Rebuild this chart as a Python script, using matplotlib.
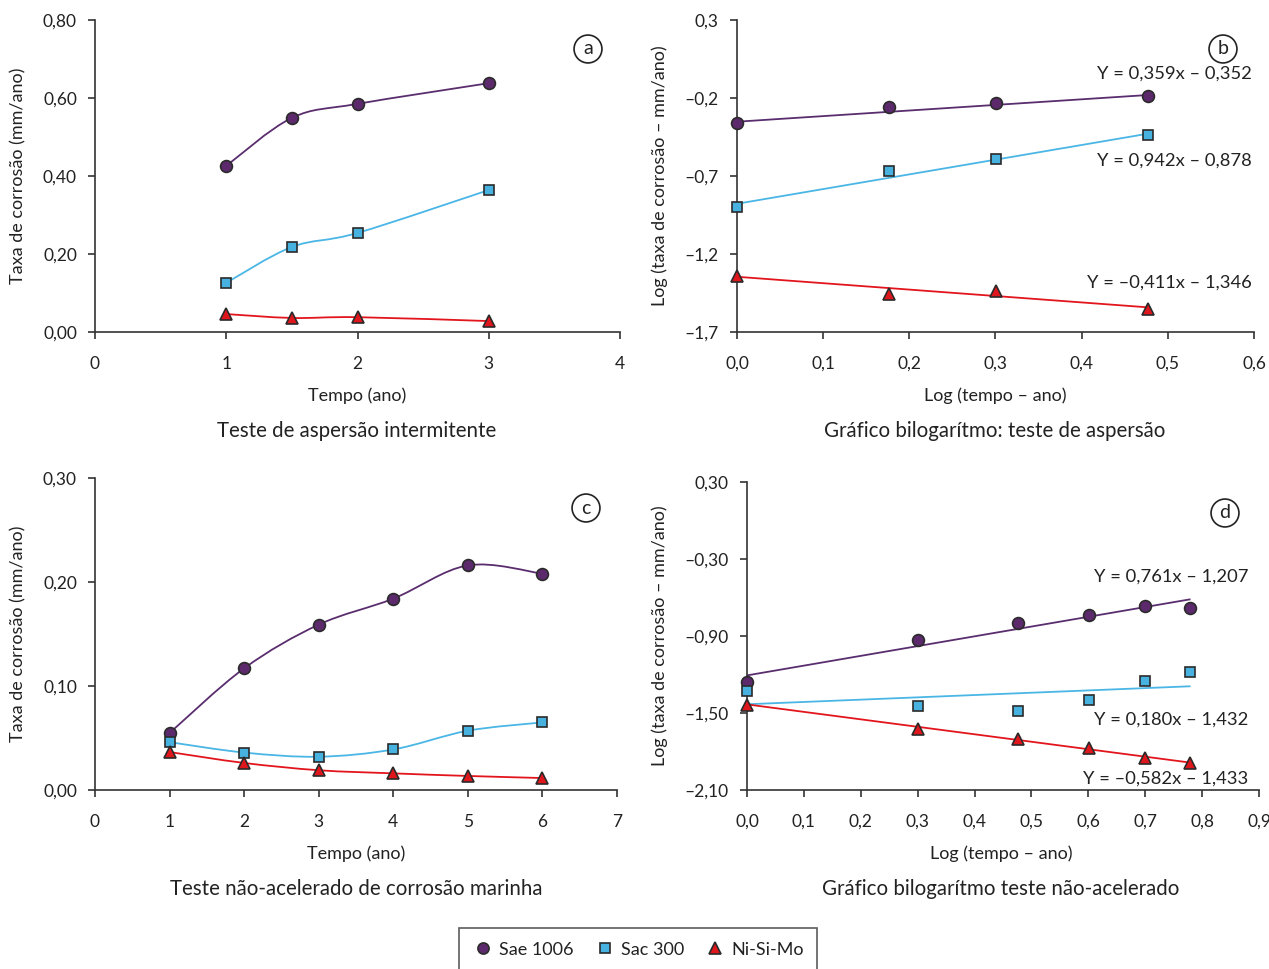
import matplotlib
matplotlib.use("Agg")
import matplotlib.pyplot as plt
from matplotlib.path import Path
from matplotlib.patches import PathPatch
from matplotlib.lines import Line2D
import numpy as np

plt.rcParams['font.family'] = ['Lato', 'DejaVu Sans']

# ---------------- data ----------------
series_names = ["Sae 1006", "Sac 300", "Ni-Si-Mo"]

# (a) Teste de aspersão intermitente
a_time = [1, 1.5, 2, 3]
a_sae = [0.426, 0.549, 0.585, 0.638]
a_sac = [0.126, 0.218, 0.254, 0.364]
a_ni = [0.046, 0.036, 0.038, 0.028]

# (b) bilogarítmico aspersão
b_logt = [0.0, 0.176, 0.301, 0.477]
b_sae = [-0.360, -0.258, -0.232, -0.187]
b_sac = [-0.899, -0.668, -0.591, -0.437]
b_ni = [-1.341, -1.456, -1.437, -1.553]
b_slope = [0.359, 0.942, -0.411]
b_icpt = [-0.352, -0.878, -1.346]
b_eq = ["Y = 0,359x – 0,352", "Y = 0,942x – 0,878", "Y = –0,411x – 1,346"]

# (c) Teste não-acelerado de corrosão marinha
c_time = [1, 2, 3, 4, 5, 6]
c_sae = [0.0548, 0.117, 0.159, 0.184, 0.216, 0.208]
c_sac = [0.046, 0.036, 0.032, 0.039, 0.057, 0.065]
c_ni = [0.0365, 0.026, 0.019, 0.016, 0.0135, 0.0115]

# (d) bilogarítmico não-acelerado
d_logt = [0.0, 0.301, 0.477, 0.602, 0.699, 0.778]
d_sae = [-1.259, -0.931, -0.799, -0.737, -0.666, -0.682]
d_sac = [-1.329, -1.446, -1.485, -1.399, -1.251, -1.181]
d_ni = [-1.438, -1.625, -1.703, -1.773, -1.851, -1.890]
d_slope = [0.761, 0.180, -0.582]
d_icpt = [-1.207, -1.432, -1.433]
d_eq = ["Y = 0,761x – 1,207", "Y = 0,180x – 1,432", "Y = –0,582x – 1,433"]

# ---------------- style ----------------
line_colors = ["#5a2d6e", "#4ab6e6", "#e3151c"]
face_colors = ["#5c2a6c", "#47b2e0", "#e0161d"]
markers = ["o", "s", "^"]
msizes = [8.5, 7.5, 8.5]
edge = "#2a2a2a"
axis_col = "#333333"
txt_col = "#222222"

W, H = 1269, 969
fig = plt.figure(figsize=(W / 100, H / 100), dpi=100)


def add_axes(l, r, t, b):
    return fig.add_axes([l / W, 1 - b / H, (r - l) / W, (b - t) / H])


def fmt(v, nd):
    s = f"{abs(v):.{nd}f}".replace(".", ",")
    return ("–" if v < -1e-9 else "") + s


def style_axes(ax, xlim, xticks, xnd, ylim, yticks, ynd):
    ax.set_xlim(*xlim)
    ax.set_ylim(*ylim)
    for s in ["top", "right"]:
        ax.spines[s].set_visible(False)
    for s in ["left", "bottom"]:
        ax.spines[s].set_color(axis_col)
        ax.spines[s].set_linewidth(1.2)
    ax.set_xticks(xticks)
    ax.set_xticklabels([fmt(v, xnd) for v in xticks])
    ax.set_yticks(yticks)
    ax.set_yticklabels([fmt(v, ynd) for v in yticks])
    ax.tick_params(axis="both", direction="out", length=5, width=1.2,
                   color=axis_col, labelsize=12.5, labelcolor=txt_col)
    ax.tick_params(axis="x", pad=12)
    ax.tick_params(axis="y", pad=8)
    ax.patch.set_alpha(0)


def smooth(ax, x, y, color, z=2):
    pts = np.column_stack([x, y]).astype(float)
    n = len(pts)
    verts = [pts[0]]
    codes = [Path.MOVETO]
    for i in range(n - 1):
        p0 = pts[i - 1] if i > 0 else pts[i]
        p1 = pts[i]
        p2 = pts[i + 1]
        p3 = pts[i + 2] if i + 2 < n else pts[i + 1]
        c1 = p1 + (p2 - p0) / 6.0
        c2 = p2 - (p3 - p1) / 6.0
        verts += [c1, c2, p2]
        codes += [Path.CURVE4] * 3
    ax.add_patch(PathPatch(Path(verts, codes), fill=False, edgecolor=color,
                           lw=1.3, zorder=z))


def pts(ax, x, y, k):
    ax.plot(x, y, linestyle="none", marker=markers[k], ms=msizes[k],
            mfc=face_colors[k], mec=edge, mew=1.2, zorder=5, clip_on=False)


def tag(ax, letter, px, py):
    fig.text(px / W, 1 - py / H, letter, ha="center", va="center",
             fontsize=14, color=txt_col,
             bbox=dict(boxstyle="circle,pad=0.28", fc="white", ec=txt_col, lw=1.2))


def ftext(px, py, s, size, rot=0, ha="center"):
    fig.text(px / W, 1 - py / H, s, ha=ha, va="center", fontsize=size,
             rotation=rot, color=txt_col)


# ---------- panel a ----------
axa = add_axes(95, 620, 20, 332)
style_axes(axa, (0, 4), [0, 1, 2, 3, 4], 0, (0, 0.8), [0, 0.2, 0.4, 0.6, 0.8], 2)
for k, ys in enumerate([a_sae, a_sac, a_ni]):
    smooth(axa, a_time, ys, line_colors[k])
    pts(axa, a_time, ys, k)
tag(axa, "a", 588, 49)
ftext(357, 396, "Tempo (ano)", 13)
ftext(357, 431, "Teste de aspersão intermitente", 14.8)
ftext(18, 176, "Taxa de corrosão (mm/ano)", 13, rot=90)

# ---------- panel b ----------
axb = add_axes(737, 1254, 20, 332)
style_axes(axb, (0, 0.6), [0, 0.1, 0.2, 0.3, 0.4, 0.5, 0.6], 1,
           (-1.7, 0.3), [0.3, -0.2, -0.7, -1.2, -1.7], 1)
for k, ys in enumerate([b_sae, b_sac, b_ni]):
    xl = np.array([b_logt[0], b_logt[-1]])
    axb.plot(xl, b_slope[k] * xl + b_icpt[k], color=line_colors[k], lw=1.3, zorder=2)
    pts(axb, b_logt, ys, k)
tag(axb, "b", 1223, 49)
ftext(1252, 74, b_eq[0], 13.2, ha="right")
ftext(1252, 161, b_eq[1], 13.2, ha="right")
ftext(1252, 283, b_eq[2], 13.2, ha="right")
ftext(995, 396, "Log (tempo – ano)", 13)
ftext(995, 431, "Gráfico bilogarítmo: teste de aspersão", 14.8)
ftext(660, 176, "Log (taxa de corrosão – mm/ano)", 13, rot=90)

# ---------- panel c ----------
axc = add_axes(95, 617, 478, 790)
style_axes(axc, (0, 7), [0, 1, 2, 3, 4, 5, 6, 7], 0, (0, 0.3), [0, 0.1, 0.2, 0.3], 2)
for k, ys in enumerate([c_sae, c_sac, c_ni]):
    smooth(axc, c_time, ys, line_colors[k])
    pts(axc, c_time, ys, k)
tag(axc, "c", 586, 508)
ftext(356, 854, "Tempo (ano)", 13)
ftext(356, 889, "Teste não-acelerado de corrosão marinha", 14.8)
ftext(18, 634, "Taxa de corrosão (mm/ano)", 13, rot=90)

# ---------- panel d ----------
axd = add_axes(747, 1259, 482, 790)
style_axes(axd, (0, 0.9), [0, 0.1, 0.2, 0.3, 0.4, 0.5, 0.6, 0.7, 0.8, 0.9], 1,
           (-2.1, 0.3), [0.3, -0.3, -0.9, -1.5, -2.1], 2)
for k, ys in enumerate([d_sae, d_sac, d_ni]):
    xl = np.array([d_logt[0], d_logt[-1]])
    axd.plot(xl, d_slope[k] * xl + d_icpt[k], color=line_colors[k], lw=1.3, zorder=2)
    pts(axd, d_logt, ys, k)
tag(axd, "d", 1225, 513)
ftext(1248, 577, d_eq[0], 13.2, ha="right")
ftext(1248, 720, d_eq[1], 13.2, ha="right")
ftext(1248, 779, d_eq[2], 13.2, ha="right")
ftext(1001, 854, "Log (tempo – ano)", 13)
ftext(1001, 889, "Gráfico bilogarítmo teste não-acelerado", 14.8)
ftext(660, 636, "Log (taxa de corrosão – mm/ano)", 13, rot=90)

# ---------- legend ----------
handles = [Line2D([], [], linestyle="none", marker=markers[k], ms=msizes[k] - 0.5,
                  mfc=face_colors[k], mec=edge, mew=1.2) for k in range(3)]
leg = fig.legend(handles, series_names, loc="upper center",
                 bbox_to_anchor=(638 / W, 1 - 928 / H), ncol=3, frameon=True,
                 fancybox=False, edgecolor=axis_col, fontsize=13,
                 handletextpad=0.3, columnspacing=1.1, borderpad=0.75,
                 handlelength=1.2, borderaxespad=0)
leg.get_frame().set_linewidth(1.2)
for t in leg.get_texts():
    t.set_color(txt_col)

fig.savefig("out.png", dpi=100)
